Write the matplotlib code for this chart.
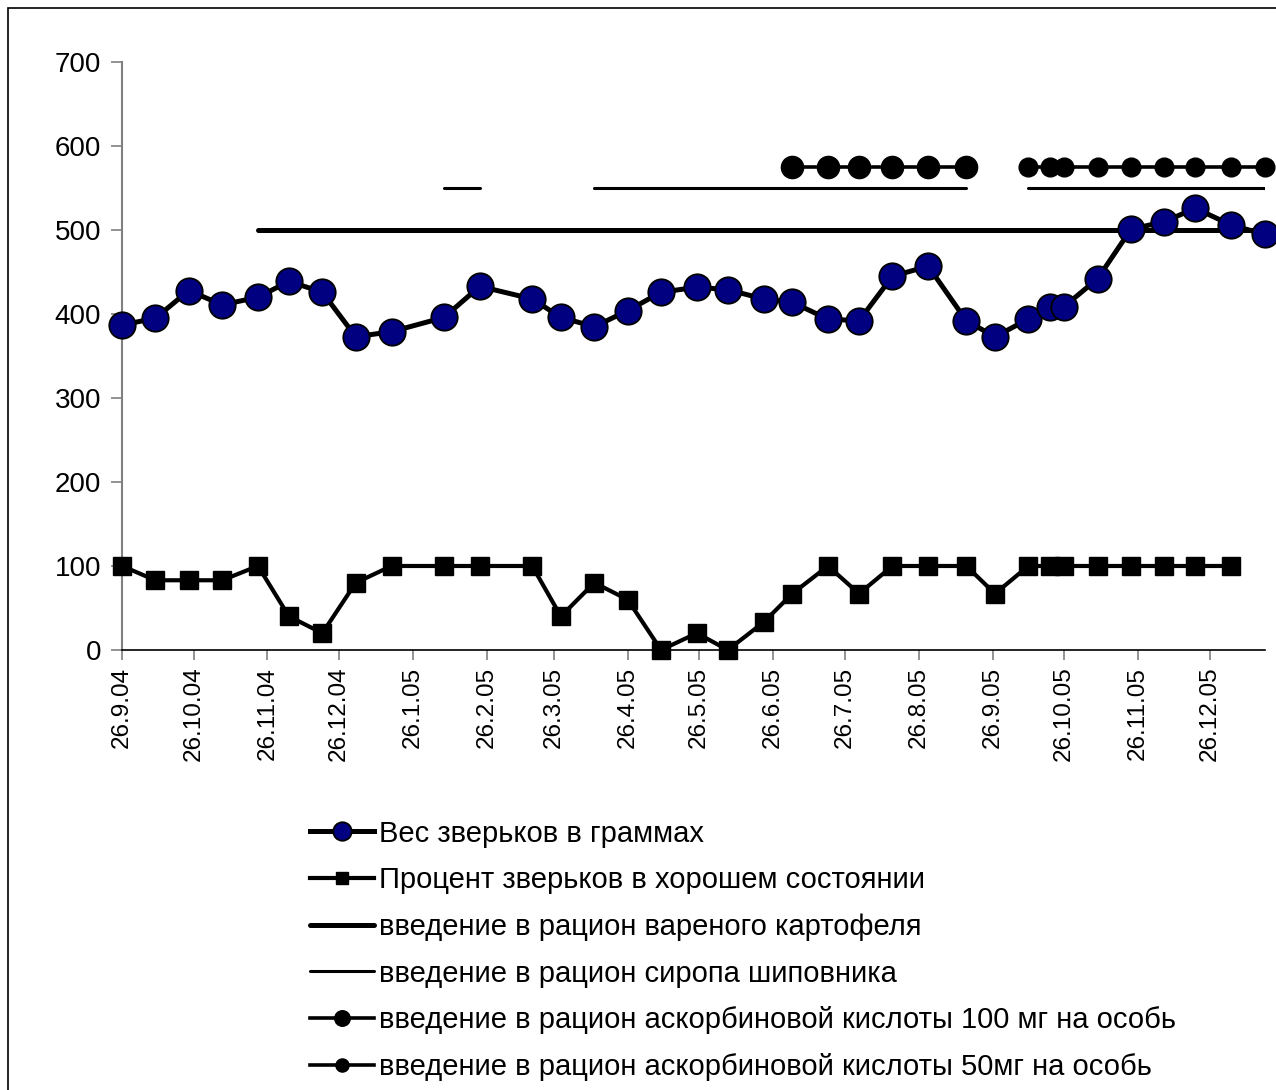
import datetime as dt
import matplotlib
matplotlib.use("Agg")
import matplotlib.pyplot as plt
from matplotlib.patches import Rectangle

plt.rcParams['font.family'] = ['Liberation Sans', 'DejaVu Sans']

# даты взвешиваний
dates = ["2004-09-26", "2004-10-10", "2004-10-24", "2004-11-07", "2004-11-22",
         "2004-12-05", "2004-12-19", "2005-01-02", "2005-01-17", "2005-02-08",
         "2005-02-23", "2005-03-17", "2005-03-29", "2005-04-12", "2005-04-26",
         "2005-05-10", "2005-05-25", "2005-06-07", "2005-06-22", "2005-07-04",
         "2005-07-19", "2005-08-01", "2005-08-15", "2005-08-30", "2005-09-15",
         "2005-09-27", "2005-10-11", "2005-10-20", "2005-10-26", "2005-11-09",
         "2005-11-23", "2005-12-07", "2005-12-20", "2006-01-04", "2006-01-18"]

weight = [387, 395, 428, 411, 420, 439, 426, 373, 379, 396,
          433, 418, 396, 385, 404, 426, 432, 429, 418, 414,
          394, 392, 445, 457, 392, 373, 394, 408, 409, 442,
          501, 510, 526, 506, 495]

percent = [100, 83, 83, 83, 100, 40, 20, 80, 100, 100,
           100, 100, 40, 80, 60, 0, 20, 0, 33, 67,
           100, 67, 100, 100, 100, 67, 100, 100, 100, 100,
           100, 100, 100, 100]

# периоды подкормок (индексы дат)
potato_start = 4
potato_level = 500
syrup_spans = [(9, 10), (13, 24), (26, 34)]
syrup_level = 550
asc100_span = (19, 24)
asc50_span = (26, 34)
asc_level = 575

labels = ["Вес зверьков в граммах",
          "Процент зверьков в хорошем состоянии",
          "введение в рацион вареного картофеля",
          "введение в рацион сиропа шиповника",
          "введение в рацион аскорбиновой кислоты 100 мг на особь",
          "введение в рацион аскорбиновой кислоты 50мг на особь"]

d = [dt.datetime.strptime(s, "%Y-%m-%d") for s in dates]

fig = plt.figure(figsize=(12.76, 10.9), dpi=100)
ax = fig.add_axes([0.0956, 0.4037, 0.8954, 0.5393])

ax.plot(d[potato_start:], [potato_level] * len(d[potato_start:]), color='black',
        lw=3.6, solid_capstyle='round', label=labels[2], zorder=2)
for i, (a, b) in enumerate(syrup_spans):
    ax.plot(d[a:b + 1], [syrup_level] * (b - a + 1), color='black', lw=2.2,
            solid_capstyle='round', label=labels[3] if i == 0 else None, zorder=2)
a, b = asc100_span
ax.plot(d[a:b + 1], [asc_level] * (b - a + 1), color='black', lw=2.6,
        marker='o', ms=16, label=labels[4], zorder=3)
a, b = asc50_span
ax.plot(d[a:b + 1], [asc_level] * (b - a + 1), color='black', lw=2.6,
        marker='o', ms=13.5, label=labels[5], clip_on=False, zorder=3)

ax.plot(d, weight, color='black', lw=3.6, marker='o', ms=19,
        markerfacecolor='#000080', markeredgecolor='black', markeredgewidth=1.3,
        label=labels[0], clip_on=False, zorder=5)
ax.plot(d[:len(percent)], percent, color='black', lw=3.0, marker='s', ms=13,
        markerfacecolor='black', markeredgecolor='black',
        label=labels[1], clip_on=False, zorder=4)

ax.set_ylim(0, 700)
ax.set_yticks(range(0, 701, 100))
ax.set_xlim(d[0], d[-1])

ticks = [dt.datetime(2004 + (8 + k) // 12, (8 + k) % 12 + 1, 26) for k in range(16)]
ax.set_xticks(ticks)
ax.set_xticklabels([f"{t.day}.{t.month}.{t.year % 100:02d}" for t in ticks],
                   rotation=90, fontsize=17.5)
ax.tick_params(axis='y', labelsize=20, length=8, width=1.2, color='#808080', pad=7)
ax.tick_params(axis='x', length=7, width=1.2, color='#808080', pad=5)

for s in ('top', 'right'):
    ax.spines[s].set_visible(False)
ax.spines['left'].set_color('#808080')
ax.spines['left'].set_linewidth(1.5)
ax.spines['bottom'].set_color('black')
ax.spines['bottom'].set_linewidth(1.2)

h, l = ax.get_legend_handles_labels()
hd = dict(zip(l, h))
leg = fig.legend([hd[x] for x in labels], labels, loc='upper left',
                 bbox_to_anchor=(0.243, 0.248), frameon=False, fontsize=21,
                 handlelength=2.2, handletextpad=0.15, labelspacing=0.64,
                 borderpad=0, borderaxespad=0, markerscale=0.7)

fig.patches.append(Rectangle((8 / 1276, -0.01), 1.0, 1 - 8 / 1090 + 0.01,
                             transform=fig.transFigure, fill=False,
                             edgecolor='black', lw=1.2))

fig.savefig("out.png", dpi=100)
